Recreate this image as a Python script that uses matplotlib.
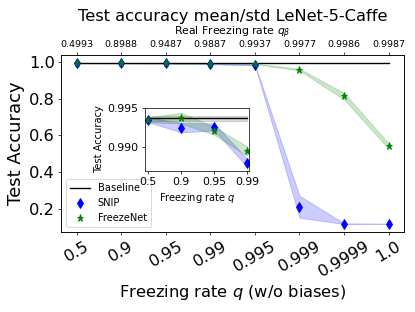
import numpy as np
import matplotlib
matplotlib.use("Agg")
import matplotlib.pyplot as plt

rates = ["0.5", "0.9", "0.95", "0.99", "0.995", "0.999", "0.9999", "1.0"]
real_rates = ["0.4993", "0.8988", "0.9487", "0.9887", "0.9937", "0.9977", "0.9986", "0.9987"]

baseline_mean = 0.9937
baseline_std = 0.0003

snip_mean = [0.9935, 0.9925, 0.9926, 0.9880, 0.984, 0.210, 0.117, 0.117]
snip_std = [0.0003, 0.0006, 0.00045, 0.0005, 0.003, 0.06, 0.002, 0.001]

freeze_mean = [0.9935, 0.9937, 0.9921, 0.9895, 0.990, 0.958, 0.813, 0.541]
freeze_std = [0.0003, 0.0007, 0.0005, 0.0006, 0.001, 0.005, 0.018, 0.015]


def draw(ax, n, ms):
   x = np.arange(n)
   sm, ss = np.array(snip_mean[:n]), np.array(snip_std[:n])
   fm, fs = np.array(freeze_mean[:n]), np.array(freeze_std[:n])
   ax.plot([0, n - 1], [baseline_mean] * 2, "k-", label="Baseline")
   ax.fill_between([0, n - 1], [baseline_mean - baseline_std] * 2,
                   [baseline_mean + baseline_std] * 2, color="grey", alpha=0.3)
   ax.plot(x, sm, "bd", markersize=ms, label="SNIP")
   ax.fill_between(x, sm - ss, sm + ss, color="blue", alpha=0.2)
   ax.plot(x, fm, "g*", markersize=ms, label="FreezeNet")
   ax.fill_between(x, fm - fs, fm + fs, color="green", alpha=0.2)


# drawn at a low dpi so it looks like a 6.4x4.8 figure scaled down
fig = plt.figure(figsize=(6.385, 4.8), dpi=65)
ax = fig.add_axes([0.147, 0.256, 0.827, 0.568])
draw(ax, len(rates), 8)
ax.set_xticks(np.arange(len(rates)))
ax.set_xticklabels(rates, rotation=30, fontsize=18)
ax.set_yticks([0.2, 0.4, 0.6, 0.8, 1.0])
ax.set_yticklabels(["0.2", "0.4", "0.6", "0.8", "1.0"], fontsize=18)
ax.set_xlabel("Freezing rate $q$ (w/o biases)", fontsize=18)
ax.set_ylabel("Test Accuracy", fontsize=20)
ax.legend(loc="lower left", fontsize=11)

top = ax.twiny()
top.set_xlim(ax.get_xlim())
top.set_xticks(np.arange(len(rates)))
top.set_xticklabels(real_rates, fontsize=10.5)
top.set_xlabel(r"Real Freezing rate $q_\beta$", fontsize=12, labelpad=5)
top.set_title("Test accuracy mean/std LeNet-5-Caffe", fontsize=18, pad=1)

ins = fig.add_axes([0.349, 0.452, 0.251, 0.202])
draw(ins, 4, 8)
ins.set_xlim(-0.1, 3.05)
ins.set_ylim(0.987, 0.995)
ins.set_xticks(np.arange(4))
ins.set_xticklabels(rates[:4], fontsize=12)
ins.set_yticks([0.990, 0.995])
ins.set_yticklabels(["0.990", "0.995"], fontsize=12)
ins.set_xlabel("Freezing rate $q$", fontsize=11)
ins.set_ylabel("Test Accuracy", fontsize=11)

fig.savefig("out.png", dpi=65)
